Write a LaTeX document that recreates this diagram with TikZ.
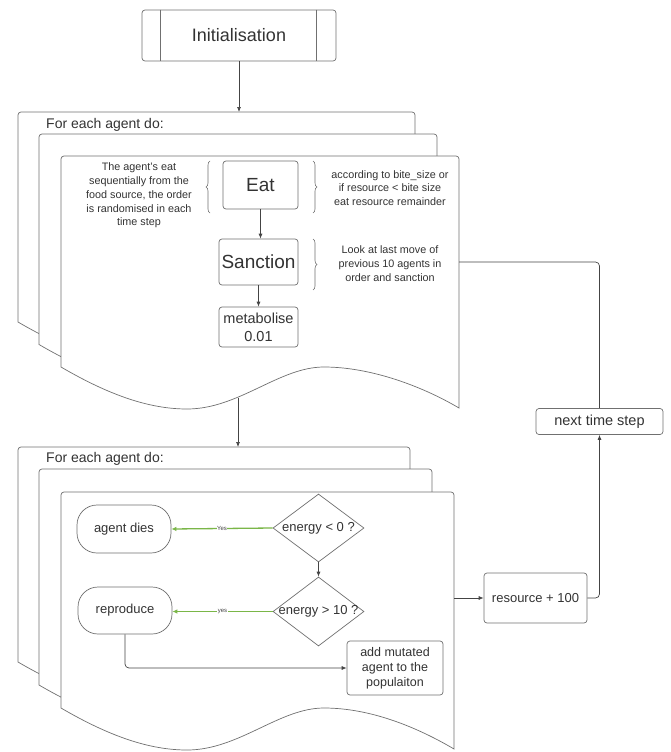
\documentclass[tikz,border=0pt]{standalone}
\usepackage{fontspec}
\setmainfont{Liberation Sans}
\usetikzlibrary{shapes.geometric,shapes.misc,arrows.meta,decorations.pathreplacing}
\definecolor{txt}{HTML}{333333}
\definecolor{ln}{HTML}{707070}
\definecolor{arr}{HTML}{444444}
\definecolor{grn}{HTML}{7AB648}
\newcommand\docsheet[4]{%
  \filldraw[sheet] (#1,#4) [rounded corners=3pt] -- (#1,#2) -- (#3,#2) [sharp corners] -- (#3,{#4+41})
    .. controls ({#3-39},{#4+18}) and ({#1+308},{#4}) .. ({#1+263},{#4})
    .. controls ({#1+218},{#4}) and ({#1+178},{#4+42}) .. ({#1+126},{#4+42})
    .. controls ({#1+88},{#4+42}) and ({#1+48},{#4+28}) .. (#1,#4) -- cycle;}
\begin{document}
\begin{tikzpicture}[x=1pt,y=-1pt,
  box/.style={draw=ln, fill=white, rounded corners=3pt, inner sep=0pt, align=center, text=txt, line width=0.7pt},
  sheet/.style={draw=ln, fill=white, line width=0.7pt},
  conn/.style={draw=arr, line width=0.7pt, -{Latex[length=5pt,width=4pt]}},
  plainline/.style={draw=arr, line width=0.7pt},
  yesconn/.style={draw=grn, line width=1.3pt, -{Latex[length=5pt,width=4.5pt]}},
  brc/.style={draw=ln, line width=0.6pt, decorate, decoration={brace, amplitude=4pt}},
  note/.style={text=txt, align=center, font=\fontsize{10.8}{13.8}\selectfont},
  diam/.style={diamond, draw=ln, fill=white, inner sep=0pt, line width=0.7pt},
  stadium/.style={draw=ln, fill=white, rounded corners=20pt, inner sep=0pt, align=center, text=txt, line width=0.7pt},
  lbl/.style={text=txt, font=\fontsize{14}{17}\selectfont, anchor=west, inner sep=0pt},
  yeslbl/.style={fill=white, inner sep=0.6pt, text=arr, font=\fontsize{6}{7}\selectfont}
]
\useasboundingbox (0,0) rectangle (670,752);

% Initialisation
\node[box, minimum width=194pt, minimum height=51pt, font=\fontsize{18}{21}\selectfont] (init) at (239,35.5) {Initialisation};
\draw[ln, line width=0.7pt] ([xshift=19pt]init.north west) -- ([xshift=19pt]init.south west);
\draw[ln, line width=0.7pt] ([xshift=-20pt]init.north east) -- ([xshift=-20pt]init.south east);

% top multi-document
\docsheet{18}{112}{415}{322}
\docsheet{39}{134}{437}{344.5}
\docsheet{61}{156}{459}{367}
\coordinate (doc1top) at (238,112);
\coordinate (wave1) at (238,397.5);
\coordinate (doc1right) at (459,262);
\node[lbl] (fe1) at (46,125) {For each agent do:};

\node[box, minimum width=75pt, minimum height=48pt, font=\fontsize{19}{22}\selectfont] (eat) at (260.5,185) {Eat};
\node[box, minimum width=79pt, minimum height=46pt, font=\fontsize{19}{22}\selectfont] (sanction) at (258.5,262) {Sanction};
\node[box, minimum width=79pt, minimum height=40pt, font=\fontsize{14.5}{18}\selectfont] (metab) at (258.5,327) {metabolise\\0.01};

\draw[brc] (210,213) -- (210,161);
\draw[brc] (313,161) -- (313,213);
\draw[brc] (313,239) -- (313,290);
\node[note] (n1) at (139,195.5) {The agent's eat\\sequentially from the\\food source, the order\\is randomised in each\\time step};
\node[note] (n2) at (390,188) {according to bite\_size or\\if resource < bite size\\eat resource remainder};
\node[note] (n3) at (390,263.5) {Look at last move of\\previous 10 agents in\\order and sanction};

\draw[conn] (init.south) -- (init.south |- doc1top);
\draw[conn] (eat.south) -- (eat.south |- sanction.north);
\draw[conn] (sanction.south) -- (sanction.south |- metab.north);

% bottom multi-document
\docsheet{18}{447}{410}{662}
\docsheet{39}{469}{432}{685}
\docsheet{61}{492}{454}{708}
\coordinate (doc2top) at (238,447);
\coordinate (doc2right) at (454,598);
\node[lbl] (fe2) at (46,459) {For each agent do:};

\draw[conn] (wave1) -- (doc2top);

\node[stadium, minimum width=94pt, minimum height=48pt, font=\fontsize{13}{16}\selectfont] (dies) at (124,529) {agent dies};
\node[stadium, minimum width=94pt, minimum height=47pt, font=\fontsize{13}{16}\selectfont] (repro) at (125,610.5) {reproduce};
\node[diam, minimum width=91pt, minimum height=68pt] (d1) at (318.5,528) {};
\node[text=txt, inner sep=0pt, font=\fontsize{13}{16}\selectfont] (d1t) at (d1.center) {energy < 0 ?};
\node[diam, minimum width=91pt, minimum height=69pt] (d2) at (318.5,611.5) {};
\node[text=txt, inner sep=0pt, font=\fontsize{13}{16}\selectfont] (d2t) at (d2.center) {energy > 10 ?};
\node[box, minimum width=96pt, minimum height=54pt, font=\fontsize{12.5}{15}\selectfont] (addm) at (395,668) {add mutated\\agent to the\\populaiton};

\draw[conn] (d1.south) -- (d2.north);
\draw[yesconn] (d1.west) -- (dies.east) node[yeslbl, midway] (y1) {Yes};
\draw[yesconn] (d2.west) -- (repro.east |- d2.west) node[yeslbl, midway] (y2) {yes};
\draw[conn, rounded corners=4pt] (repro.south) |- (addm.west);

% right loop
\node[box, minimum width=103pt, minimum height=50pt, font=\fontsize{13}{16}\selectfont] (res) at (535.5,598) {resource + 100};
\node[box, minimum width=127pt, minimum height=26pt, font=\fontsize{14.5}{17}\selectfont] (nts) at (599.5,421.5) {next time step};
\draw[conn] (doc2right) -- (res.west);
\draw[conn, rounded corners=4pt] (res.east) -| (nts.south);
\draw[plainline, rounded corners=4pt] (nts.north) |- (doc1right);
\end{tikzpicture}
\end{document}
